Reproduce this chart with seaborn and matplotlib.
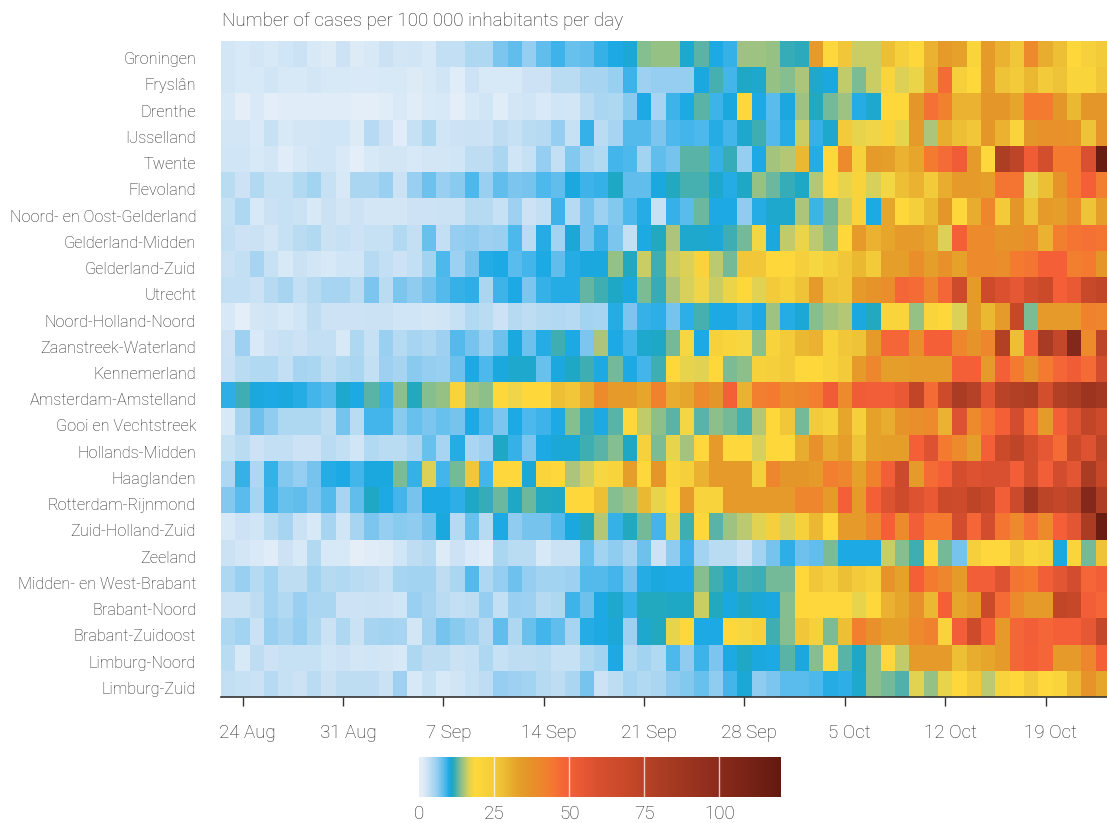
import numpy as np
import pandas as pd
import seaborn as sns
import matplotlib.pyplot as plt
import matplotlib.transforms as mtrans
from matplotlib.colors import LinearSegmentedColormap

regions = ["Groningen", "Fryslân", "Drenthe", "IJsselland", "Twente", "Flevoland",
           "Noord- en Oost-Gelderland", "Gelderland-Midden", "Gelderland-Zuid", "Utrecht",
           "Noord-Holland-Noord", "Zaanstreek-Waterland", "Kennemerland", "Amsterdam-Amstelland",
           "Gooi en Vechtstreek", "Hollands-Midden", "Haaglanden", "Rotterdam-Rijnmond",
           "Zuid-Holland-Zuid", "Zeeland", "Midden- en West-Brabant", "Brabant-Noord",
           "Brabant-Zuidoost", "Limburg-Noord", "Limburg-Zuid"]

date_labels = ["24 Aug", "31 Aug", "7 Sep", "14 Sep", "21 Sep", "28 Sep", "5 Oct", "12 Oct", "19 Oct"]
date_cols = [1, 8, 15, 22, 29, 36, 43, 50, 57]
cbar_ticks = [0, 25, 50, 75, 100]

groningen = [2.2,1.9,2.2,2,2.4,3,2,1.5,2.8,1.5,1.9,3,2.3,2.5,2.1,3.4,3.4,4.5,4.5,7,8,
             6,8,9,7.7,8,9.2,10,10.4,13.7,14.3,14.3,10.7,12.5,10,9.3,14.4,14.5,14.3,11.7,11.4,
             35,20,26,16,16,28,24,19,30,35,33,21,35,30,26,40,31,28,19,23,25]
fryslan = [2.2,2,2,2.4,1.9,1.9,2.2,2,2,1.7,1.7,1.9,2,1.5,2,2.4,1.3,2.7,1.9,1.9,1.9,
           2.6,2.8,3.9,3.8,5,5,5.8,9,5.6,6,6,6,10.3,12.2,8.8,11,10.6,14.2,13.7,15,
           10.8,10.2,15.7,13.5,16,21,16.5,17.3,31,47,24,19,35,27,25,29,25,27,21,21,26]
drenthe = [2,0.9,1.8,1,1.4,1.3,1.3,1.4,1.3,1,1,1.3,1.8,1.4,1.8,2,1,1.9,2.5,1.4,2.2,
           2.5,1.7,2.4,2.2,4,4.8,4.5,6.5,10,5,9,10,12.5,9,10.2,20,10,8.2,10.3,14.5,
           11.2,13.3,14.5,9.8,10.8,19,19,36,46,42,30,30,36,36,32,44,44,36,29,36,36]
ijsselland = [2.2,2.2,1.8,3.2,1.9,2.2,2.2,2.5,2.4,1.6,4.2,2.6,1.4,3.2,4.6,2.5,2.8,3,2.8,3.6,3.2,
              3.8,4.1,6,3.1,9.2,3.9,5,8.4,8.4,7,8.6,8.8,8.6,9.8,8.8,10.7,12,8.4,9.8,16,
              9.4,10.6,25,17,17.6,22,17,35,15,31,28,26,36,30,21,36,38,38,37,27,37]
twente = [2.4,2.5,1.9,2.2,1.3,2,2.4,2.4,1.8,1.1,2,2.2,2.2,2,2.2,2.2,2.5,3.7,3.7,4.8,2.4,
          3.2,6,3.3,6.8,5,4.3,8.8,8.6,5.4,8,7.2,12.6,12.6,9.4,11.7,6,10,14.7,15.2,29,
          9.8,19,40,23,35,34,30,32,44,47,52,35,20,80,73,52,63,44,44,60,118]
flevoland = [3.8,2.7,4.3,3.2,3.2,4.4,5.3,3.2,1.9,4.8,4.8,5.7,3,5.7,7.5,5.8,6.5,8.5,5.7,8,7,
             7.3,8.6,8,10.2,9.1,9.3,11,8,8,10.3,11.3,12.1,12.1,10.8,9.8,10.9,14.3,13,11.7,11,
             15.2,20,17,22,16.3,17.7,28,30,25,31,35,35,34,45,45,17,28,37,44,50,43]
noord_oost_gelderland = [3.2,4.5,2,3,3.2,2.9,1.9,3,2.3,2.7,2.2,2.2,2.2,2.7,2.7,3,3,4.2,4.2,3.1,5.6,
                         2.7,3.3,9.1,4.1,7.3,5.5,6.7,8.6,9.7,3.2,9.2,8.2,13,10,10.1,6.2,9.8,10.6,10.6,14.9,
                         9,13.4,16,22,9.9,32,19,24,29,36,20,31,41,25,36,27,35,34,39,27,34]
gelderland_midden = [3.5,2.8,2.9,2.3,3.1,4,4.4,3,3.1,2.6,3.1,3.1,4.4,3.4,7.6,3.4,6,6.3,5.5,5.7,8.5,
                     3.8,9.8,5.3,10.5,7.2,9.2,7,3.3,10,11.2,15,10.8,10.8,10.4,11.8,13.2,17.7,10.2,15.6,17.4,
                     15.4,14,19,35,30,32,35,35,32,16.5,50,40,40,37,37,39,30,43,45,46,45]
gelderland_zuid = [3,3.4,5,3.1,2.1,2.9,2.3,2,2.5,2.5,4.2,3.3,2.8,3.5,5.4,8.6,5.5,7.2,9.8,10,8.2,
                   8.8,9.9,8,9.7,10.2,10.3,14.2,11.2,16,12,16,16.5,22,15.4,13.2,26,26,19,20,24,
                   18,24,26,29,25,34,34,39,34,38,33,40,40,39,44,45,50,50,43,44,36]
utrecht = [3.5,3.5,3,4.1,5,3.5,4.1,5,5,4,7,4,7,6.3,7.2,8.4,9.4,9.5,4.8,9,9.9,
           7,9.4,9.8,9.8,12.8,11.8,11,10.2,13.5,11.7,15,16.3,17.5,16,17.3,19,16.8,25,23,27,
           35,27,26,35,37,39,48,47,41,48,66,35,66,59,55,63,68,50,54,69,72]
nh_noord = [2.1,1.1,2.2,2.5,2.1,2.5,3.6,2.6,2.6,2.6,2.9,3,2.4,2.4,2.3,2.5,3.1,4.4,3.8,2.7,4.2,
            3.6,4.2,4.3,4.2,5.4,5,9.8,7,9.2,9.6,7.3,9.5,12.2,10.1,10.1,9.3,10,14.5,9.8,10.4,
            13.7,14.8,15.2,10.2,11.3,21,21,14.2,21,19,16.7,35,29,35,70,13.6,35,35,35,42,41]
zaanstreek = [2.7,5.6,1.8,2.6,3.1,2.8,3.5,3.3,1.9,4.6,3.1,5.7,4.2,5,4.5,5.5,8.4,7.3,5.7,7.4,10.2,
              7.5,9.8,12,10,7,15,9.9,8.8,10.8,10.9,13.2,18,10.1,23,21,18,14,22,25,29,
              30,22,26,27,35,48,48,39,50,50,41,37,41,78,28,49,83,71,104,40,74]
kennemerland = [3,3.9,4.4,4.4,3.4,5,4.8,3.7,4.3,4.8,3.4,5.6,5.1,6.5,6.1,5.7,7.5,9.9,8.6,10.3,10.7,
                10.8,7.6,10.2,11,12,10,13.3,10.1,8.8,12,19,17,16.8,19,13.5,14,23,24,25,20,
                19,22,25,35,41,34,34,35,35,35,50,50,35,50,44,37,44,48,52,47,64]
amsterdam = [9.5,11.9,10.2,9.9,10.2,9.8,8.9,8.4,10.6,9.9,12.6,9.4,14,11.3,13.8,14.2,22,14.6,14,19,17.5,
             19,19,28,26,31,40,35,35,32,42,31,32,40,36,50,30,43,44,40,41,
             43,52,40,52,51,51,54,72,47,66,82,77,57,75,78,80,63,78,82,90,86]
gooi = [1.9,5,7.4,6.2,4.5,4.5,4.5,3.6,7.2,3.8,8.9,8.9,6.5,7.6,7,7.6,7.2,9.9,8.6,7,10,
        8.5,9,10.1,13.8,11.6,9.9,12.6,19,15.7,14,12.6,17.8,12.6,14,13.4,12.2,15.2,19,26,13.3,
        25,23,32,24,33,31,37,39,40,30,58,40,45,50,64,47,35,50,58,72,66]
hollands_midden = [3.1,3.8,2.6,3.3,3.4,2.7,2.7,3.8,3.4,2.4,4.3,4,4,4.8,7.7,5,9.8,4.9,5.5,11,9.2,
                   7,10,10.4,10.4,12,12.6,13.7,10.9,23,13.5,17,14.7,20,35,20,20,16.4,19,20,31,
                   38,31,34,27,33,34,34,50,58,44,40,34,50,68,73,63,55,47,68,58,74]
haaglanden = [4.6,9.2,4.6,9.4,6.8,6,7.3,9.7,10,8.8,10.2,10.2,13.5,9.2,16.5,8.8,13.2,26,8.9,20,20,
              10.4,21,19,15,16.2,18,22,34,20,36,21,24,30,35,35,35,24,41,36,36,
              35,43,41,33,42,51,68,35,47,50,62,58,60,60,51,63,51,64,56,82,70]
rotterdam = [6.8,8.2,5,9.1,7.6,7.9,7,8.4,5,7.8,11,9.9,8.8,7.3,10,10,9.5,11,11.7,13,11,
             13,11.3,11,20,19,28,13.7,14.4,29,17,20,35,22,22,35,35,35,35,35,41,
             41,35,50,35,50,58,66,58,54,68,66,74,70,51,67,88,74,71,74,104,80]
zh_zuid = [2.1,2.7,2.4,4,5,3,2,5,2.5,5,7,6,6.5,6.3,7.3,10.2,4.2,7.6,4.2,10,6.2,
           7.2,7.1,8.3,10.2,11.2,15.2,9.4,11.2,13.2,8.8,17,11.8,19.5,12.6,14.4,15.5,16.8,24,16.4,23,
           29,19,35,35,41,50,40,51,44,44,64,48,64,45,40,46,40,50,56,82,117]
zeeland = [3,2.2,1.7,1.3,2.8,1.9,4.3,1.9,1.9,0.9,1.4,1.6,2.5,3.6,4.2,1.6,2.7,1.8,1.3,4.8,3.8,
           3.8,2,3,3,7.6,5.2,6.3,5.1,7.5,2.7,6.2,9,5.2,4,4,2.9,5.2,7.2,9.5,7.5,
           7.8,13.5,10.1,10.1,10,16,13.7,11.9,20,13.2,7.2,24,20,20,26,21,23,10.2,21,13.2,27]
midden_west_brabant = [4.5,5.7,4.2,5.2,3.6,3.6,5.2,4.2,4.4,3.9,3.6,3.2,5,5.2,5.4,3.7,4.9,8.3,4.6,5.9,7.5,
                       6,5.2,5.4,5.6,8.3,8.3,8.8,7.3,9.7,10.2,10.1,10.1,13.7,12,10.7,12.2,11.8,13.2,13.2,19,
                       26,24,28,25,23,37,33,50,44,41,35,51,51,58,45,44,51,56,64,48,51]
brabant_noord = [3,3,3.7,5.2,4.3,5.7,4.8,4.8,2.8,2.6,2.9,2.7,2.4,5.8,5,3.8,3.5,3.7,6,3.5,5.8,
                 5.5,4.1,4.6,9,7.4,10,10.6,9.3,11.2,11.2,11,11,16,11.3,10.3,11,10.5,10.2,13.7,19,
                 19.5,20,19.5,17,19,30,32,38,29,50,32,35,68,47,40,35,35,72,70,51,48]
brabant_zuidoost = [4.5,5.3,3,5.7,5.1,6.1,4.6,3,4.6,3,5,5.3,5,2.3,5.4,7.3,6.4,5.6,4.1,7.8,4.6,
                    7.7,8.8,7.9,5,9.7,10,10.4,5.5,10.7,11.3,17,20,9.9,9.9,19,18,23,11.9,13.8,26,
                    23,13.6,28,43,38,34,34,40,42,22,51,66,50,35,48,51,48,50,50,55,71]
limburg_noord = [3.8,2,3.6,2.6,3.1,3.1,3.1,2.4,2.7,2.2,2.5,2.2,2.1,4.6,3.6,3.6,3,3.2,4.5,3.1,3.6,
                 3.7,3.9,3.2,3.1,4.6,5.2,9.9,4.4,5.4,4.4,8.6,6.2,9,6.9,9.9,11,10.2,10,12.6,10.3,
                 13.7,19,12.5,11,14,20,15.7,35,35,35,28,31,32,35,48,50,48,35,35,41,50]
limburg_zuid = [3.3,3.2,3,4.1,3.2,2.6,3.8,3,3.6,3.6,3.6,3,5.6,2,3.1,2,2.5,3.2,3.7,6,5.6,
                5.2,4.2,3.6,4.8,7.2,2.8,3.7,5,4.4,4.8,6.2,6.8,7.6,6.3,8.8,10.4,6.2,7,8.2,8.2,
                8.7,9.7,9.6,10.6,14,13.2,12.4,16.8,14.2,17,19,25,15.5,22,19,25,20,21,29,37,32]

rows = [groningen, fryslan, drenthe, ijsselland, twente, flevoland, noord_oost_gelderland,
        gelderland_midden, gelderland_zuid, utrecht, nh_noord, zaanstreek, kennemerland,
        amsterdam, gooi, hollands_midden, haaglanden, rotterdam, zh_zuid, zeeland,
        midden_west_brabant, brabant_noord, brabant_zuidoost, limburg_noord, limburg_zuid]

# colour scale picked off the legend bar, value -> colour
VMAX = 120.6
scale_vals = [0, 1, 2, 3, 4, 5, 6, 7, 8, 9, 10, 11, 12, 13, 14, 15, 16, 17, 18.5,
              24, 28, 32, 36, 40, 44, 48, 50, 60, 70, 80, 100, VMAX]
scale_cols = ["#E9EEF3", "#E3EEF8", "#D5E7F6", "#C8E1F4", "#B5DAF2", "#A6D4F1", "#93CDF0", "#78C4EE",
              "#5BBCEC", "#3CB3E9", "#1AA8E3", "#20A8C0", "#45AFB0", "#6CB89E", "#90C088", "#B0C678",
              "#D0CF60", "#E8D34C", "#FFD93B", "#F5CF3C", "#EDBE35", "#E6A52B", "#E49628", "#EC8A2C",
              "#F47A30", "#F46638", "#F45F38", "#D8502F", "#C64829", "#AD3E24", "#8B2B1C", "#641A10"]
cmap = LinearSegmentedColormap.from_list(
    "cases", [(v / VMAX, c) for v, c in zip(scale_vals, scale_cols)], N=512)

plt.rcParams['font.family'] = ['Roboto', 'DejaVu Sans']
plt.rcParams['font.weight'] = 'light'
TEXT = "#262626"
W, H = 1107, 823

fig = plt.figure(figsize=(W / 100, H / 100), dpi=100)
ax = fig.add_axes([221 / W, 1 - 697 / H, 886 / W, 656 / H])

df = pd.DataFrame(rows, index=regions)
sns.heatmap(df, cmap=cmap, vmin=0, vmax=VMAX, cbar=False, ax=ax,
            xticklabels=False, yticklabels=True, linewidths=0, rasterized=True)

# last day is cut off by the right edge in the original
ax.set_xlim(0, 886 / 14.34)
ax.set_ylabel("")
ax.set_xlabel("")
ax.spines['bottom'].set_visible(True)
ax.spines['bottom'].set_color("#333333")
ax.spines['bottom'].set_linewidth(1.2)

ax.set_xticks([c + 0.5 for c in date_cols])
ax.set_xticklabels(date_labels, fontsize=13.5, color=TEXT)
ax.tick_params(axis='x', length=6.5, width=1.0, color="#333333", pad=13)
ax.tick_params(axis='y', length=0, pad=18)
ax.set_yticklabels(regions, fontsize=11.7, color=TEXT, rotation=0)

# labels sit a little off their ticks
xshift = mtrans.ScaledTranslation(5 / 100, 0, fig.dpi_scale_trans)
for lab in ax.get_xticklabels():
    lab.set_transform(lab.get_transform() + xshift)
yshift = mtrans.ScaledTranslation(0, -5.5 / 100, fig.dpi_scale_trans)
for lab in ax.get_yticklabels():
    lab.set_transform(lab.get_transform() + yshift)

fig.text(222 / W, 1 - 26 / H, "Number of cases per 100 000 inhabitants per day",
         fontsize=13.6, color=TEXT, ha='left', va='baseline')

# legend bar
cax = fig.add_axes([419.3 / W, 1 - 797 / H, (781 - 419.3) / W, 40 / H])
cax.imshow(np.linspace(0, VMAX, 724).reshape(1, -1), cmap=cmap, vmin=0, vmax=VMAX,
           aspect='auto', extent=(0, VMAX, 0, 1))
for t in cbar_ticks[1:]:
    cax.axvline(t, color="white", alpha=0.75, linewidth=1.0)
cax.set_yticks([])
cax.set_xticks(cbar_ticks)
cax.set_xticklabels([str(t) for t in cbar_ticks], fontsize=13.5, color=TEXT)
cax.tick_params(axis='x', length=0, pad=5.5)
for s in cax.spines.values():
    s.set_visible(False)

fig.savefig("out.png", dpi=100)
plt.close(fig)
